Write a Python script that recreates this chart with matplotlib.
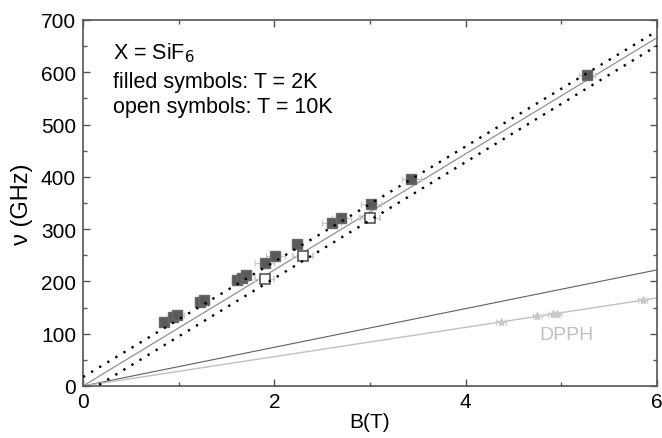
import numpy as np
import matplotlib
matplotlib.use("Agg")
import matplotlib.pyplot as plt
from matplotlib.ticker import MultipleLocator

plt.rcParams['font.family'] = ['Liberation Sans', 'DejaVu Sans']

# filled symbols, T = 2K
b_filled = [0.85, 0.94, 0.98, 1.22, 1.265, 1.61, 1.66, 1.70, 1.90, 2.01, 2.24, 2.60, 2.70, 3.01, 3.43, 5.27]
nu_filled = [122, 132, 136, 161, 165, 203, 206, 213, 235, 248, 271, 311, 321, 349, 396, 595]
err_filled = [0.05, 0.05, 0.08, 0.05, 0.05, 0.05, 0.05, 0.05, 0.1, 0.1, 0.05, 0.1, 0.1, 0.1, 0.1, 0.08]

# open symbols, T = 10K
b_open = [1.90, 2.30, 3.00]
nu_open = [205, 249, 321]
err_open = [0.1, 0.1, 0.1]

# DPPH reference
b_dpph = [4.37, 4.75, 4.91, 4.95, 5.85]
nu_dpph = [122.5, 133, 137.5, 138.5, 164]
err_dpph = [0.05, 0.05, 0.05, 0.05, 0.05]

# line slopes (GHz/T) and offsets (GHz)
slope_fit, off_fit = 111.0, 0.0
slope_up, off_up = 110.3, 17.0
slope_lo, off_lo = 111.2, -16.5
slope_dark = 37.0
slope_dpph = 28.04

fig = plt.figure(figsize=(6.62, 4.39), dpi=100)
ax = fig.add_axes([0.1254, 0.1185, 0.867, 0.8337])

B = np.linspace(0, 6, 200)
ax.plot(B, slope_dark * B, color='#606060', lw=0.8, zorder=2)
ax.plot(B, slope_dpph * B, color='#c0c0c0', lw=1.0, zorder=2)
ax.plot(B, slope_fit * B + off_fit, color='#909090', lw=0.9, zorder=2)

ax.errorbar(b_filled, nu_filled, xerr=err_filled, fmt='s', ms=6.5,
            mfc='#5a5a5a', mec='#6a6a6a', ecolor='#c8c8c8', elinewidth=0.8,
            capsize=2.5, zorder=3)
ax.errorbar(b_open, nu_open, xerr=err_open, fmt='s', ms=6.5,
            mfc='white', mec='#555555', mew=1.2, ecolor='#c8c8c8',
            elinewidth=0.8, capsize=2.5, zorder=3)
ax.errorbar(b_dpph, nu_dpph, xerr=err_dpph, fmt='*', ms=6,
            mfc='#c8c8c8', mec='#c8c8c8', ecolor='#d0d0d0', elinewidth=0.8,
            capsize=2, zorder=3)

ax.plot(B, slope_up * B + off_up, color='black', lw=1.7,
        dashes=(1, 3), zorder=4)
ax.plot(B, slope_lo * B + off_lo, color='black', lw=1.7,
        dashes=(1, 3), zorder=4)

ax.set_xlim(0, 6)
ax.set_ylim(0, 700)
ax.xaxis.set_major_locator(MultipleLocator(2))
ax.xaxis.set_minor_locator(MultipleLocator(1))
ax.yaxis.set_major_locator(MultipleLocator(100))
ax.yaxis.set_minor_locator(MultipleLocator(50))
ax.tick_params(which='both', direction='in', top=True, right=True,
               color='#555555', labelsize=15)
ax.tick_params(axis='x', pad=4)
ax.tick_params(axis='y', pad=5)
ax.tick_params(which='major', length=5, width=1)
ax.tick_params(which='minor', length=3, width=1)
for s in ax.spines.values():
    s.set_color('#555555')
    s.set_linewidth(1.2)

ax.set_xlabel('B(T)', fontsize=15, labelpad=1)
ax.set_ylabel('ν (GHz)', fontsize=17, labelpad=6)

ax.text(0.31, 639, 'X = SiF$_6$', fontsize=15.5, va='center')
ax.text(0.31, 583, 'filled symbols: T = 2K', fontsize=15.5, va='center')
ax.text(0.31, 535, 'open symbols: T = 10K', fontsize=15.5, va='center')
ax.text(5.05, 99, 'DPPH', fontsize=14, color='#c0c0c0', ha='center', va='center')

fig.savefig('out.png', dpi=100)
